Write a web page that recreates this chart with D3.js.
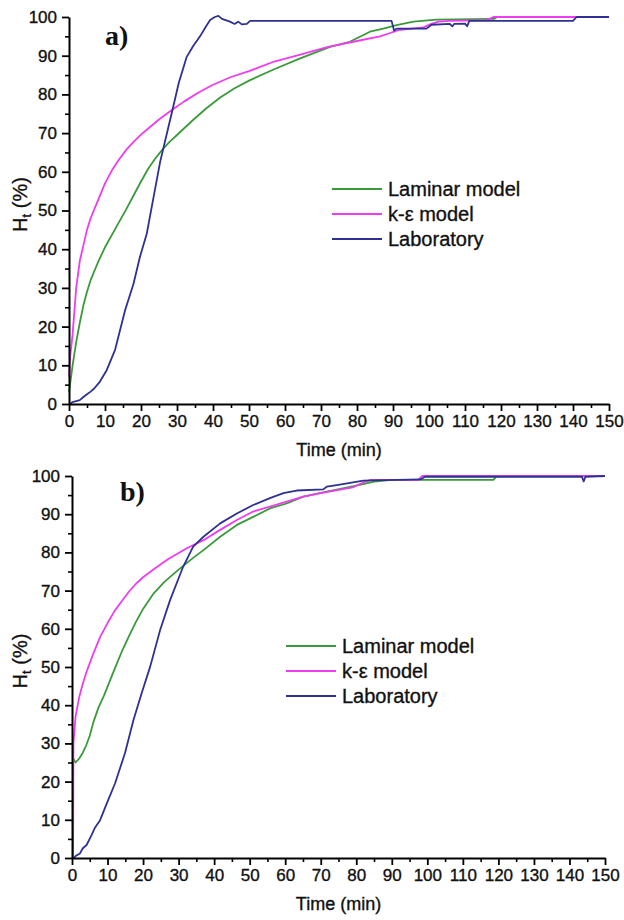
<!DOCTYPE html>
<html lang="en">
<head>
<meta charset="UTF-8">
<title>Ht vs time</title>
<script src="https://cdn.jsdelivr.net/npm/d3@7"></script>
<style>
  body { margin: 0; background: #fff; }
  svg { display: block; font-family: "Liberation Sans", Arial, sans-serif; }
  .heavy { stroke: #111; stroke-width: 0.35px; }
</style>
</head>
<body>
<svg class="root"></svg>
<script>
// ---- data ----
const seriesNames = ["Laminar model", "k-\u03b5 model", "Laboratory"];
const timeTicks = d3.range(0, 151, 10);
const htTicks = d3.range(0, 101, 10);

// panel a)
const laminarA = [[0,3],[1,10],[2,16],[3,21],[4,25.5],[5,29],[6,32],[8,36.5],[10,40.5],[13,45.5],[16,50.5],
  [18,54],[20,57.5],[22,60.8],[24,63.5],[26,65.8],[28,67.8],[30,69.5],[34,73],[38,76.3],[42,79.2],
  [46,81.6],[50.3,83.7],[57,86.5],[64.2,89.3],[72.5,92.3],[78,93.6],[83.6,96.2],[87.3,97],[91,97.9],
  [95.7,98.8],[102,99.3],[118,99.5],[119,100],[150,100]];
const kepsA = [[0,7],[0.3,12],[1,18],[2,30],[3,37],[4,41],[5,45],[6,48],[8,52.5],[10,57],[12,60.5],
  [14,63.3],[16,65.8],[18,67.8],[20,69.6],[22,71.2],[25,73.5],[28,75.6],[32,78.2],[36,80.5],[40,82.5],
  [45,84.5],[50,86],[57,88.5],[64,90.2],[72,92.3],[80,93.8],[86.4,95],[89,95.8],[91.5,96.6],[98.4,97.3],
  [100.3,98.1],[102.6,98.8],[105.8,99],[116,99.2],[117.9,100],[150,100]];
const labA = [[0.3,0],[1,0.5],[3,1],[4,1.8],[5,2.5],[6,3.2],[7,4],[8.6,5.8],[10.5,8.8],[12.8,14],[15.6,24.3],
  [17.9,31],[19.7,38],[21.6,44],[23,51],[25.3,62.5],[26.2,66],[27.6,71.5],[29,77],[30.5,83],[32.7,89.7],
  [34.5,92.5],[36.4,95],[38,97.5],[39.2,99.2],[40.5,100],[41.5,100.3],[42.5,99.5],[44.7,98.8],[46,98.2],
  [47,98.8],[48,98.1],[49.4,98.2],[50.3,99],[89.6,99],[90.3,96.5],[91,97],[99.3,97],[100.7,98],[105.8,98.2],
  [106.5,97.6],[107,98.2],[110,98.3],[110.6,97.6],[111.2,99],[140,99],[141,100],[150,100]];

// panel b)
const laminarB = [[0.4,26],[1,25],[2,26],[3,27.5],[4,29.5],[5,32],[6,35.5],[7.5,39.5],[9,42.5],[12,49.5],
  [14,54],[16,58],[18,61.8],[20,65.2],[23,69.3],[26,72.3],[30,75.5],[34,78.5],[37,80.6],[41.7,84.1],
  [46.4,87.2],[51,89.3],[55.7,91.5],[60.4,92.8],[65.1,94.6],[71.7,95.9],[80,97.5],[85,98.5],[90,99],
  [118.6,99],[119.5,100],[150,100]];
const kepsB = [[0.3,0],[0.4,30],[1,37],[2,42],[3,45.5],[4,48.5],[5,51],[6,53.5],[8,58],[10,61.5],[12,64.7],
  [14,67.2],[16,69.7],[18,71.8],[20,73.5],[23,75.6],[27,78.2],[32.3,81.1],[37,83.2],[41.7,85.9],[46.4,88.5],
  [51,90.7],[55.7,92],[60.4,93.3],[65.1,94.6],[70,95.5],[79,97],[81,97.9],[82.5,98.5],[84,99],[97.5,99],
  [98.5,100],[150,100]];
const labB = [[0,0],[0.5,0],[1,0.5],[2.25,1.2],[3,2.5],[4.1,3.4],[5.5,6],[6.5,8],[7.9,9.9],[9.8,14.3],
  [12.1,19.5],[14.9,27.4],[17.3,36.1],[19.6,43.1],[22,50.1],[24.8,59.7],[27.6,67.5],[31.3,76.3],[34.1,81.5],
  [37,84.1],[41.7,87.6],[46.4,90.2],[51,92.4],[55.7,94.2],[59.5,95.5],[63.2,96.2],[70.7,96.5],[71.7,97.2],
  [74.5,97.6],[82,98.8],[98,99.1],[99.4,99.8],[143.5,99.8],[144,98.6],[144.5,99.8],[150,100]];

// ---- layout ----
const width = 624, height = 920;
const colors = ["#3a9a3a", "#f03cf0", "#2e3192"];

const svg = d3.select(".root").attr("width", width).attr("height", height);
svg.append("rect").attr("width", width).attr("height", height).attr("fill", "#fff");

function panel(box, data, tag) {
  const x = d3.scaleLinear().domain([0, 150]).range([box.left, box.right]);
  const y = d3.scaleLinear().domain([0, 100]).range([box.bottom, box.top]);
  const g = svg.append("g");

  const line = d3.line().x(d => x(d[0])).y(d => y(d[1]));
  data.forEach((s, i) => {
    g.append("path")
      .datum(s)
      .attr("fill", "none")
      .attr("stroke", colors[i])
      .attr("stroke-width", 1.8)
      .attr("stroke-linejoin", "round")
      .attr("d", line);
  });

  // minor ticks
  g.append("g")
    .attr("transform", `translate(0,${box.bottom})`)
    .call(d3.axisBottom(x).tickValues(d3.range(5, 150, 10)).tickSize(4).tickFormat(""))
    .call(a => a.select(".domain").remove())
    .selectAll("line").attr("stroke-width", 1.6);
  g.append("g")
    .attr("transform", `translate(${box.left},0)`)
    .call(d3.axisLeft(y).tickValues(d3.range(5, 100, 10)).tickSize(4).tickFormat(""))
    .call(a => a.select(".domain").remove())
    .selectAll("line").attr("stroke-width", 1.6);

  // major ticks + labels
  const xa = g.append("g")
    .attr("transform", `translate(0,${box.bottom})`)
    .call(d3.axisBottom(x).tickValues(timeTicks).tickSize(7).tickSizeOuter(0).tickPadding(4));
  const ya = g.append("g")
    .attr("transform", `translate(${box.left},0)`)
    .call(d3.axisLeft(y).tickValues(htTicks).tickSize(7).tickSizeOuter(0).tickPadding(5));
  [xa, ya].forEach(a => {
    a.select(".domain").attr("stroke-width", 2);
    a.selectAll(".tick line").attr("stroke-width", 1.8);
    a.selectAll("text").attr("font-size", 17).attr("fill", "#111").attr("class", "heavy")
      .attr("font-family", "'Liberation Sans', Arial, sans-serif");
  });

  // axis titles
  g.append("text")
    .attr("class", "heavy")
    .attr("x", (box.left + box.right) / 2)
    .attr("y", box.bottom + 52)
    .attr("text-anchor", "middle")
    .attr("font-size", 18)
    .attr("fill", "#111")
    .text("Time (min)");

  const yl = g.append("text")
    .attr("class", "heavy")
    .attr("transform", `translate(27,${(box.top + box.bottom) / 2 - 6}) rotate(-90)`)
    .attr("text-anchor", "middle")
    .attr("font-size", 20)
    .attr("fill", "#111");
  yl.append("tspan").text("H");
  yl.append("tspan").attr("font-size", 13).attr("dy", 4).text("t");
  yl.append("tspan").attr("dy", -4).text(" (%)");

  // panel tag
  g.append("text")
    .attr("x", box.tagX).attr("y", box.tagY)
    .attr("font-family", "'Liberation Serif', 'Times New Roman', serif")
    .attr("font-weight", "bold")
    .attr("font-size", 28)
    .attr("fill", "#111")
    .text(tag);

  // legend
  const lg = g.append("g").attr("transform", `translate(${box.legX},${box.legY})`);
  seriesNames.forEach((name, i) => {
    const row = lg.append("g").attr("transform", `translate(0,${i * 25})`);
    row.append("line").attr("x1", 0).attr("x2", 50)
      .attr("stroke", colors[i]).attr("stroke-width", 1.8);
    row.append("text").attr("x", 56).attr("dy", "0.35em").attr("class", "heavy")
      .attr("font-size", 20).attr("fill", "#111").text(name);
  });
}

panel({left: 69, right: 609, top: 17, bottom: 404, tagX: 105, tagY: 45, legX: 332, legY: 189},
  [laminarA, kepsA, labA], "a)");
panel({left: 72, right: 605, top: 476, bottom: 858, tagX: 120, tagY: 501, legX: 286, legY: 646},
  [laminarB, kepsB, labB], "b)");
</script>
</body>
</html>
